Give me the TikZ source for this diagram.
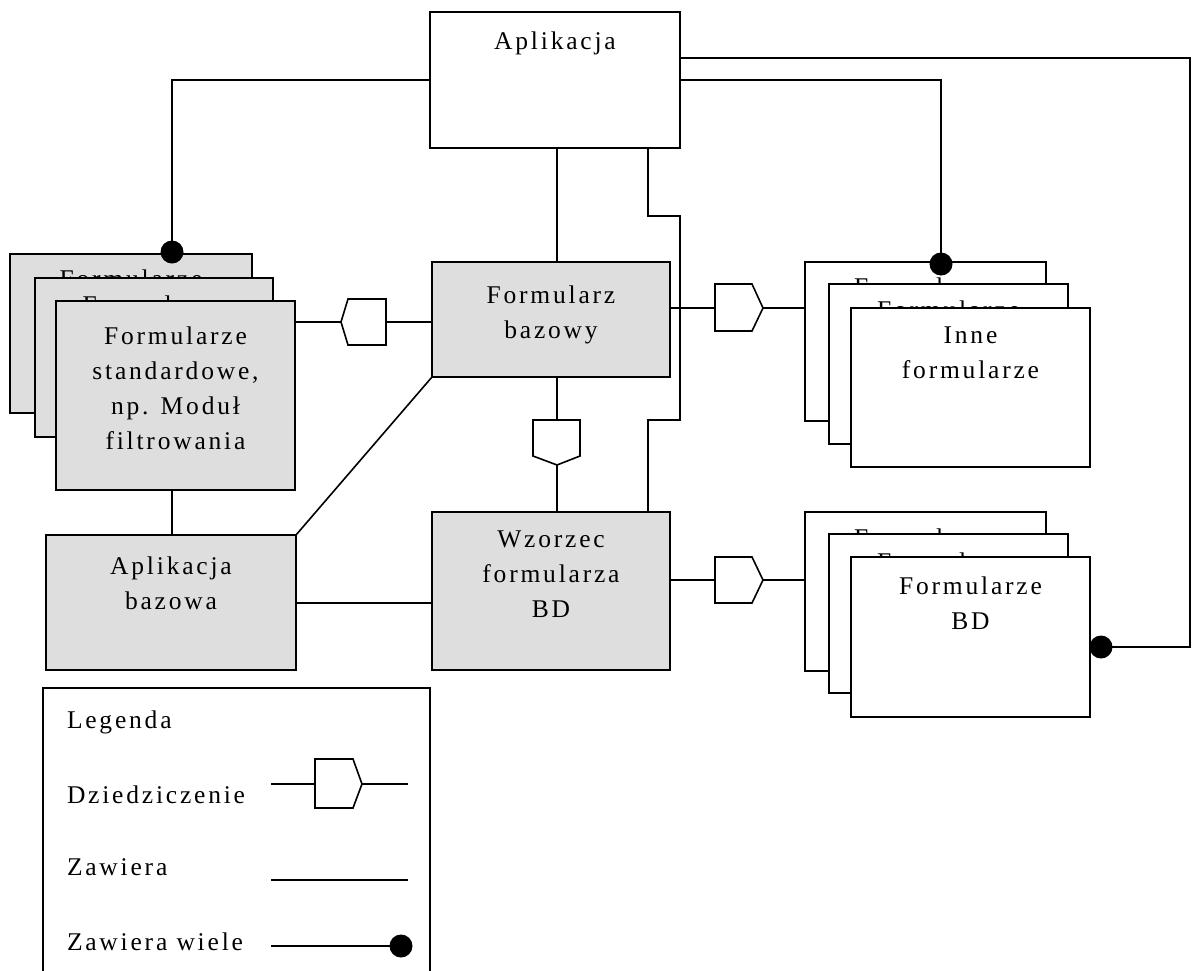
\documentclass[tikz,border=0pt]{standalone}
\usepackage{fontspec}
\setmainfont{Liberation Serif}[LetterSpace=11]
\usetikzlibrary{fit}
\definecolor{boxgray}{RGB}{222,222,222}
\begin{document}
\begin{tikzpicture}[x=1pt,y=-1pt, line width=1.6pt,
  wbox/.style={draw=black, fill=white, inner sep=0pt, outer sep=0pt},
  gbox/.style={wbox, fill=boxgray},
  txt/.style={inner sep=0pt, outer sep=0pt, align=center, font=\fontsize{25.5}{35}\selectfont},
  ltxt/.style={inner sep=0pt, outer sep=0pt, anchor=base west, font=\fontsize{25.5}{35}\selectfont},
  dot/.style={circle, fill=black, draw=none, minimum size=23pt, inner sep=0pt},
  conn/.style={draw=black, line width=1.6pt},
  inh/.style={draw=black, fill=white, line width=1.6pt, line join=miter}]
\useasboundingbox (0,0) rectangle (1192,970);
\clip (0,0) rectangle (1192,970);

% ---- Aplikacja
\node[wbox, fit={(430,12) (680,148)}] (app) {};
\node[txt, anchor=north] (appT) at (555,32) {Aplikacja};

% ---- Formularz bazowy
\node[gbox, fit={(432,262) (670,377)}] (fbaz) {};
\node[txt, anchor=north] (fbazT) at (551,286) {Formularz\\bazowy};

% ---- Wzorzec formularza BD
\node[gbox, fit={(432,512) (670,670)}] (wzor) {};
\node[txt, anchor=north] (wzorT) at (551,531) {Wzorzec\\formularza\\BD};

% ---- Aplikacja bazowa
\node[gbox, fit={(46,535) (296,670)}] (abaz) {};
\node[txt, anchor=north] (abazT) at (171,557) {Aplikacja\\bazowa};

% ---- standard forms stack
\node[gbox, fit={(10,254) (252,413)}] (stdA) {};
\node[txt, anchor=north] (stdAT) at (131,270) {Formularze};
\node[gbox, fit={(35,278) (273,437)}] (stdB) {};
\node[txt, anchor=north] (stdBT) at (154,296) {Formularze};
\node[gbox, fit={(56,301) (295,490)}] (stdC) {};
\node[txt, anchor=north] (stdCT) at (175.5,327) {Formularze\\standardowe,\\np. Moduł\\filtrowania};

% ---- Inne formularze stack
\node[wbox, fit={(805,262) (1046,421)}] (inA) {};
\node[txt, anchor=north] (inAT) at (925.5,278) {Formularze};
\node[wbox, fit={(829,284) (1068,444)}] (inB) {};
\node[txt, anchor=north] (inBT) at (948.5,301) {Formularze};
\node[wbox, fit={(851,308) (1090,467)}] (inC) {};
\node[txt, anchor=north] (inCT) at (970.5,327) {Inne\\formularze};

% ---- Formularze BD stack
\node[wbox, fit={(805,512) (1046,671)}] (bdA) {};
\node[txt, anchor=north] (bdAT) at (925.5,529) {Formularze};
\node[wbox, fit={(829,534) (1068,693)}] (bdB) {};
\node[txt, anchor=north] (bdBT) at (948.5,553) {Formularze};
\node[wbox, fit={(851,557) (1090,717)}] (bdC) {};
\node[txt, anchor=north] (bdCT) at (970.5,577) {Formularze\\BD};

% ---- inheritance symbols
\draw[inh] (386,299) -- (348,299) -- (341,322) -- (348,345) -- (386,345) -- cycle;
\coordinate (p1t) at (341,322); \coordinate (p1b) at (386,322);
\draw[inh] (715,284) -- (752,284) -- (763,308) -- (752,331) -- (715,331) -- cycle;
\coordinate (p2b) at (715,308); \coordinate (p2t) at (763,308);
\draw[inh] (715,557) -- (752,557) -- (763,580) -- (752,603) -- (715,603) -- cycle;
\coordinate (p3b) at (715,580); \coordinate (p3t) at (763,580);
\draw[inh] (533,420) -- (580,420) -- (580,456) -- (557,465) -- (533,456) -- cycle;
\coordinate (p4b) at (557,420); \coordinate (p4t) at (557,465);

% ---- dots
\node[dot] (dL) at (172,252) {};
\node[dot] (dI) at (941,264) {};
\node[dot] (dB) at (1101,647) {};

% ---- connectors
\draw[conn] (app.west |- 0,80) -| (dL.center);
\draw[conn] (app.east |- 0,80) -| (dI.center);
\draw[conn] (app.east |- 0,58) -- (1190,58) |- (dB.center);
\draw[conn] (app.south -| 557,0) -- (fbaz.north -| 557,0);
\draw[conn] (app.south -| 648,0) -- (648,216) -- (680,216) -- (680,420) -- (648,420) -- (wzor.north -| 648,0);
\draw[conn] (stdC.east |- p1t) -- (p1t);
\draw[conn] (p1b) -- (fbaz.west |- p1b);
\draw[conn] (fbaz.east |- p2b) -- (p2b);
\draw[conn] (p2t) -- (inA.west |- p2t);
\draw[conn] (wzor.east |- p3b) -- (p3b);
\draw[conn] (p3t) -- (bdA.west |- p3t);
\draw[conn] (fbaz.south -| p4b) -- (p4b);
\draw[conn] (p4t) -- (wzor.north -| p4t);
\draw[conn] (fbaz.south west) -- (abaz.north east);
\draw[conn] (stdC.south -| 172,0) -- (abaz.north -| 172,0);
\draw[conn] (abaz.east |- 0,603) -- (wzor.west |- 0,603);

% ---- legend
\node[wbox, fit={(43,688) (430,990)}] (leg) {};
\node[ltxt] (legT) at (67,728) {Legenda};
\node[ltxt] (legD) at (67,803) {Dziedziczenie};
\node[ltxt] (legZ) at (67,875) {Zawiera};
\node[ltxt] (legW) at (67,950) {Zawiera wiele};
\coordinate (l1a) at (271,784); \coordinate (l1b) at (408,784);
\draw[conn] (l1a) -- (315,784);
\draw[inh] (315,759) -- (353,759) -- (362,784) -- (353,808) -- (315,808) -- cycle;
\draw[conn] (362,784) -- (l1b);
\coordinate (l2a) at (271,880); \coordinate (l2b) at (408,880);
\draw[conn] (l2a) -- (l2b);
\node[dot] (l3d) at (401,946) {};
\coordinate (l3a) at (271,946);
\draw[conn] (l3a) -- (l3d.center);
\end{tikzpicture}
\end{document}
